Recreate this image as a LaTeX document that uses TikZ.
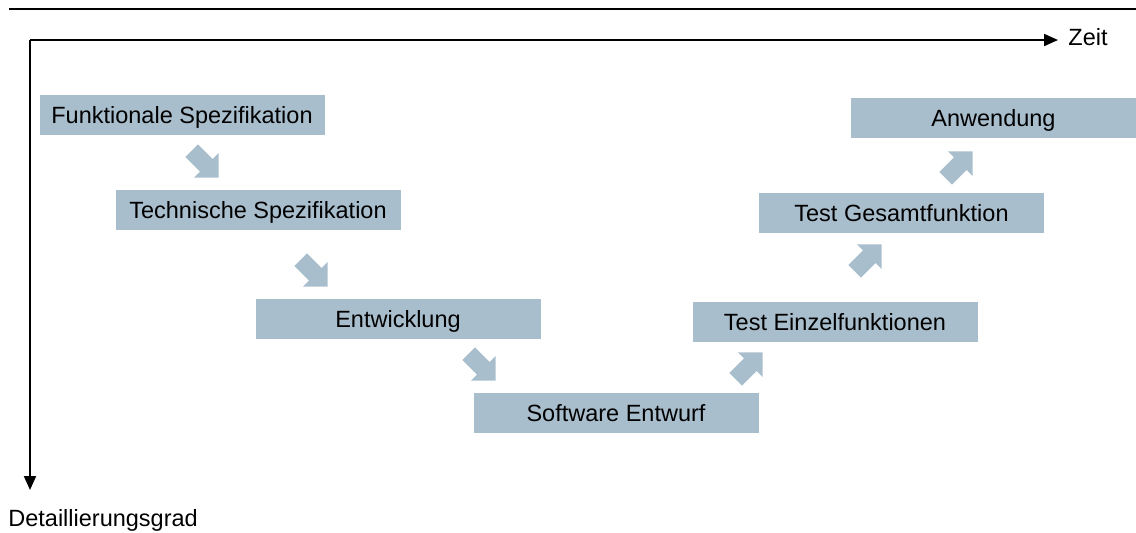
\documentclass[tikz,border=0pt]{standalone}
\usepackage{fontspec}
\setmainfont{Liberation Sans}
\usetikzlibrary{shapes.arrows, arrows.meta}

\definecolor{phasefill}{RGB}{169,190,204}

\tikzset{
    phase/.style = {fill=phasefill, minimum width=142.5pt, minimum height=20pt,
                    inner sep=0pt, text height=8.4pt, text depth=0pt,
                    font=\fontsize{11.75}{14}\selectfont},
    blockarrow/.style = {single arrow, fill=phasefill, minimum height=19pt,
                    inner xsep=0pt, inner ysep=4.25pt, text height=0pt, text depth=0pt,
                    single arrow head extend=4.25pt, anchor=tip},
    axis/.style = {line width=1pt, -{Triangle[length=7pt, width=6pt]}},
    axislabel/.style = {inner sep=0pt, font=\fontsize{11.75}{14}\selectfont}
}

\begin{document}
\begin{tikzpicture}[x=0.5pt, y=-0.5pt]

    \useasboundingbox (0,0) rectangle (1136,532);

    % Draw Top Rule
    \draw[line width=1pt] (9,9) -- (1136,9);

    % Draw Axes
    \coordinate (origin) at (30,40);
    \coordinate (zeitend) at (1058,40);
    \coordinate (detailend) at (30,490);
    \draw[axis] (origin) -- (zeitend);                                  % Time Axis
    \draw[axis] (origin) -- (detailend);                                % Detail Axis
    \node[axislabel, anchor=base west] (zeit) at (1068,45) {Zeit};
    \node[axislabel, anchor=base west] (detail) at (8,526) {Detaillierungsgrad};

    % Draw Phases
    \node[phase] (funkspez) at (182,115) {Funktionale Spezifikation};
    \node[phase] (techspez) at (258,210) {Technische Spezifikation};
    \node[phase] (entwicklung) at (398,319) {Entwicklung};
    \node[phase] (swentwurf) at (616,413) {Software Entwurf};
    \node[phase] (einzeltest) at (835,322) {Test Einzelfunktionen};
    \node[phase] (gesamttest) at (901.5,213) {Test Gesamtfunktion};
    \node[phase] (anwendung) at (993.5,118) {Anwendung};

    % Draw Block Arrows
    \node[blockarrow, rotate=-45] (pfeila) at (219,178) {};
    \node[blockarrow, rotate=-45] (pfeilb) at (328,287) {};
    \node[blockarrow, rotate=-45] (pfeilc) at (496,381) {};
    \node[blockarrow, rotate=45] (pfeild) at (763,352) {};
    \node[blockarrow, rotate=45] (pfeile) at (882,244) {};
    \node[blockarrow, rotate=45] (pfeilf) at (973,151) {};

\end{tikzpicture}
\end{document}
